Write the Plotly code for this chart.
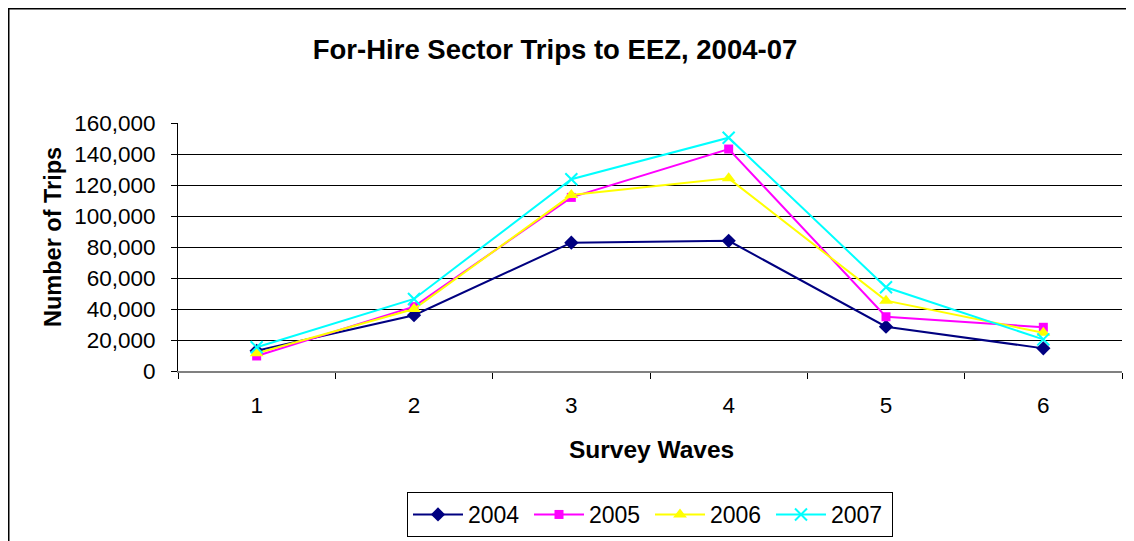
import plotly.graph_objects as go

## Survey wave categories and trips per year
waves = ['1', '2', '3', '4', '5', '6']
trips_2004 = [13000, 36000, 82800, 84000, 28600, 14600]
trips_2005 = [9700, 41500, 112000, 143200, 35000, 28200]
trips_2006 = [11400, 40000, 113500, 124300, 45400, 24700]
trips_2007 = [15300, 46500, 123700, 150500, 54000, 20400]
years = ['2004', '2005', '2006', '2007']

W, H = 1134, 541
OFF = 8  # page body margin shifts the figure by 8px
L, T = 178 - OFF, 123 - OFF
R = W - (1122 - OFF)
B = H - (371 - OFF)
FONT = 'Liberation Sans, Arial, sans-serif'

styles = {
    '2004': dict(color='#000080', symbol='diamond', size=11),
    '2005': dict(color='#FF00FF', symbol='square', size=9),
    '2006': dict(color='#FFFF00', symbol='triangle-up', size=12),
    '2007': dict(color='#00FFFF', symbol='x-thin', size=12),
}

fig = go.Figure()
for name, vals in zip(years, [trips_2004, trips_2005, trips_2006, trips_2007]):
    st = styles[name]
    marker = dict(color=st['color'], symbol=st['symbol'], size=st['size'])
    if st['symbol'] == 'x-thin':
        marker['line'] = dict(color=st['color'], width=2)
    fig.add_trace(go.Scatter(x=waves, y=vals, name=name, mode='lines+markers',
                             line=dict(color=st['color'], width=2), marker=marker))

# helpers: page pixel -> paper coords
pw, ph = W - L - R, H - T - B
def px(x): return (x - OFF - L) / pw
def py(y): return (H - B - (y - OFF)) / ph

# outer frame (only top and left edges fall inside the picture)
fig.add_shape(type='rect', xref='paper', yref='paper',
              x0=px(OFF), x1=px(W + 40), y0=py(OFF), y1=py(H + 40),
              line=dict(color='black', width=3), fillcolor='rgba(0,0,0,0)', layer='below')

fig.add_annotation(text='Number of Trips', xref='paper', yref='paper',
                   x=px(53), y=py(237), xanchor='center', yanchor='middle',
                   textangle=-90, showarrow=False,
                   font=dict(family=FONT, size=23.5, color='black', weight='bold'))
fig.add_annotation(text='Survey Waves', xref='paper', yref='paper',
                   x=px(651), y=py(449), xanchor='center', yanchor='middle', showarrow=False,
                   font=dict(family=FONT, size=24.5, color='black', weight='bold'))

fig.update_layout(
    width=W, height=H,
    margin=dict(l=L, r=R, t=T, b=B),
    paper_bgcolor='white', plot_bgcolor='white',
    font=dict(family=FONT, size=22.5, color='black'),
    title=dict(text='For-Hire Sector Trips to EEZ, 2004-07', xref='container', x=(555 - OFF) / W,
               xanchor='center', yref='container', y=1 - (49 - OFF) / H, yanchor='middle',
               font=dict(size=27.5, weight='bold', color='black')),
    xaxis=dict(type='category', categoryorder='array', categoryarray=waves,
               range=[-0.5, len(waves) - 0.5],
               tickson='boundaries', ticks='outside', ticklen=6, tickcolor='black',
               ticklabelstandoff=13,
               showline=True, linecolor='#808080', linewidth=2, showgrid=False),
    yaxis=dict(range=[0, 160000], dtick=20000, tickformat=',d',
               ticks='outside', ticklen=6, tickcolor='black', ticklabelstandoff=11,
               showline=True, linecolor='black', linewidth=1,
               showgrid=True, gridcolor='black', gridwidth=1, zeroline=False),
    legend=dict(orientation='h', x=(650 - OFF) / W, xref='container', xanchor='center',
                y=1 - (514.5 - OFF) / H, yref='container', yanchor='middle',
                bordercolor='black', borderwidth=1, bgcolor='white',
                itemwidth=50, entrywidth=56, entrywidthmode='pixels', font=dict(size=23)),
    showlegend=True,
)

fig.write_html('out.html')
